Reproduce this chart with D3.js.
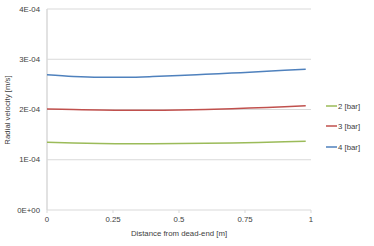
<!DOCTYPE html>
<html><head><meta charset="utf-8">
<script src="https://cdn.jsdelivr.net/npm/d3@7"></script>
<style>body{margin:0;background:#fff}svg{display:block}text{font-family:"Liberation Sans",Arial,sans-serif;fill:#404040}</style>
</head><body><svg id="c" width="374" height="246"></svg>
<script>
const xs = [0,0.1,0.2,0.3,0.4,0.5,0.6,0.7,0.8,0.9,0.98];
const s2 = [1.35e-4,1.335e-4,1.325e-4,1.32e-4,1.32e-4,1.322e-4,1.327e-4,1.335e-4,1.345e-4,1.358e-4,1.37e-4];
const s3 = [2.01e-4,2.0e-4,1.99e-4,1.985e-4,1.985e-4,1.99e-4,2.0e-4,2.015e-4,2.035e-4,2.055e-4,2.075e-4];
const s4 = [2.69e-4,2.655e-4,2.64e-4,2.642e-4,2.655e-4,2.675e-4,2.70e-4,2.725e-4,2.75e-4,2.78e-4,2.80e-4];
const seriesNames = ["2 [bar]","3 [bar]","4 [bar]"];
const colors = ["#9BBB59","#C0504D","#4F81BD"];
const yTicks = [0,1e-4,2e-4,3e-4,4e-4];
const yTickLabels = ["0E+00","1E-04","2E-04","3E-04","4E-04"];
const xTicks = [0,0.25,0.5,0.75,1];
const xTickLabels = ["0","0.25","0.5","0.75","1"];

const svg = d3.select("#c");
const x = d3.scaleLinear().domain([0,1]).range([47,311]);
const y = d3.scaleLinear().domain([0,4e-4]).range([210,9]);
const fs = 7.8;

svg.append("g").selectAll("line").data(yTicks).join("line")
  .attr("x1",47).attr("x2",311).attr("y1",d=>y(d)).attr("y2",d=>y(d))
  .attr("stroke","#d9d9d9").attr("stroke-width",1);
svg.append("line").attr("x1",x(0)).attr("x2",x(0)).attr("y1",y(4e-4)).attr("y2",y(0))
  .attr("stroke","#d9d9d9").attr("stroke-width",1.5);
svg.append("g").selectAll("line").data(xTicks).join("line")
  .attr("x1",d=>x(d)).attr("x2",d=>x(d)).attr("y1",y(0)).attr("y2",y(0)+3)
  .attr("stroke","#d9d9d9");
svg.append("g").selectAll("text").data(yTicks).join("text")
  .attr("x",40).attr("y",d=>y(d)+2.7).attr("text-anchor","end").attr("font-size",fs)
  .text((d,i)=>yTickLabels[i]);
svg.append("g").selectAll("text").data(xTicks).join("text")
  .attr("x",d=>x(d)).attr("y",222).attr("text-anchor","middle").attr("font-size",fs)
  .text((d,i)=>xTickLabels[i]);

svg.append("text").attr("x",179).attr("y",236).attr("text-anchor","middle").attr("font-size",fs)
  .text("Distance from dead-end [m]");
svg.append("text").attr("transform","translate(10,110) rotate(-90)").attr("text-anchor","middle").attr("font-size",fs)
  .text("Radial velocity [m/s]");

const line = d3.line().x(d=>x(d[0])).y(d=>y(d[1])).curve(d3.curveMonotoneX);
[s2,s3,s4].forEach((s,i)=>{
  svg.append("path").datum(xs.map((v,j)=>[v,s[j]])).attr("d",line)
    .attr("fill","none").attr("stroke",colors[i]).attr("stroke-width",1.5);
});

const ly = [106,126,147];
seriesNames.forEach((n,i)=>{
  svg.append("line").attr("x1",326).attr("x2",337).attr("y1",ly[i]).attr("y2",ly[i])
    .attr("stroke",colors[i]).attr("stroke-width",1.5);
  svg.append("text").attr("x",338).attr("y",ly[i]+2.8).attr("font-size",fs).text(n);
});
</script></body></html>
